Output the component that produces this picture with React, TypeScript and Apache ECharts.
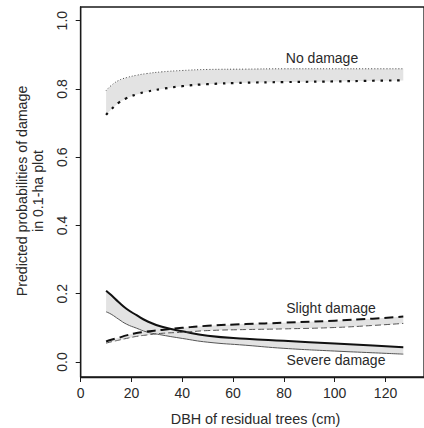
import React, { useEffect, useRef } from "react";
import * as echarts from "echarts";

const dbh = [10, 12, 15, 18, 22, 26, 32, 40, 50, 65, 80, 100, 115, 127];

const noDamageUpper = [0.795, 0.81, 0.825, 0.833, 0.84, 0.845, 0.85, 0.854, 0.857, 0.858, 0.859, 0.859, 0.859, 0.859];
const noDamageLower = [0.724, 0.74, 0.76, 0.773, 0.784, 0.792, 0.8, 0.808, 0.814, 0.818, 0.82, 0.822, 0.824, 0.825];
const severeUpper = [0.209, 0.196, 0.175, 0.156, 0.137, 0.12, 0.103, 0.09, 0.077, 0.068, 0.062, 0.054, 0.048, 0.043];
const severeLower = [0.147, 0.14, 0.125, 0.111, 0.099, 0.088, 0.079, 0.069, 0.058, 0.049, 0.04, 0.032, 0.027, 0.023];
const slightUpper = [0.06, 0.065, 0.071, 0.078, 0.085, 0.089, 0.094, 0.1, 0.106, 0.111, 0.115, 0.121, 0.127, 0.133];
const slightLower = [0.055, 0.059, 0.064, 0.069, 0.075, 0.079, 0.084, 0.087, 0.092, 0.095, 0.097, 0.101, 0.107, 0.113];

const xTicks = [0, 20, 40, 60, 80, 100, 120];
const yTicks = [0, 0.2, 0.4, 0.6, 0.8, 1.0];

const FONT = "'Liberation Sans', Arial, sans-serif";
const BAND = "#e3e3e3";

const bands = [
  { lower: noDamageLower, upper: noDamageUpper },
  { lower: severeLower, upper: severeUpper },
  { lower: slightLower, upper: slightUpper },
];

function pairs(ys: number[]) {
  return dbh.map((x, i) => [x, ys[i]]);
}

function line(ys: number[], color: string, width: number, type: any) {
  return {
    type: "line",
    data: pairs(ys),
    showSymbol: false,
    smooth: true,
    lineStyle: { color, width, type, cap: "butt" },
    z: 3,
  };
}

function label(text: string, x: number, y: number, size: number, rotation = 0) {
  return {
    type: "text",
    x,
    y,
    rotation,
    z: 100,
    style: {
      text,
      fontSize: size,
      fontFamily: FONT,
      fill: "#2a2a2a",
      align: "center",
      verticalAlign: "middle",
    },
  };
}

export default function App() {
  const ref = useRef<HTMLDivElement>(null);
  useEffect(() => {
    const chart = echarts.init(ref.current!, null, { renderer: "svg" });
    const option: any = {
      animation: false,
      backgroundColor: "#ffffff",
      grid: {
        left: 80.7,
        top: 7,
        right: -2,
        bottom: 51,
        show: true,
        borderColor: "#1a1a1a",
        borderWidth: 1.3,
      },
      xAxis: {
        type: "value",
        min: 0,
        max: 135.15,
        splitLine: { show: false },
        axisLine: { show: true, onZero: false, lineStyle: { color: "#1a1a1a", width: 1.3 } },
        axisTick: { show: true, length: 5, customValues: xTicks, lineStyle: { color: "#1a1a1a", width: 1 } },
        axisLabel: {
          customValues: xTicks,
          margin: 9,
          fontSize: 14,
          fontFamily: FONT,
          color: "#2a2a2a",
        },
      },
      yAxis: {
        type: "value",
        min: -0.044,
        max: 1.04,
        splitLine: { show: false },
        axisLine: { show: true, onZero: false, lineStyle: { color: "#1a1a1a", width: 1.3 } },
        axisTick: { show: true, length: 5, customValues: yTicks, lineStyle: { color: "#1a1a1a", width: 1 } },
        axisLabel: {
          customValues: yTicks,
          rotate: 90,
          margin: 12,
          fontSize: 14,
          fontFamily: FONT,
          color: "#2a2a2a",
          formatter: (v: number) => v.toFixed(1),
        },
      },
      series: [
        {
          type: "custom",
          data: bands.map((_, i) => [i]),
          silent: true,
          z: 1,
          renderItem: (params: any, api: any) => {
            const b = bands[params.dataIndex];
            const top = dbh.map((x, i) => api.coord([x, b.upper[i]]));
            const bottom = dbh.map((x, i) => api.coord([x, b.lower[i]])).reverse();
            return {
              type: "polygon",
              shape: { points: top.concat(bottom) },
              style: { fill: BAND, stroke: "none" },
            };
          },
        },
        line(noDamageUpper, "#444444", 1, [1, 2]),
        line(noDamageLower, "#111111", 2.2, [2.5, 5.8]),
        line(severeLower, "#555555", 1, "solid"),
        line(severeUpper, "#111111", 2, "solid"),
        line(slightLower, "#555555", 1, [6, 3]),
        line(slightUpper, "#111111", 2, [9, 5]),
      ],
      graphic: [
        label("Predicted probabilities of damage", 22, 191, 14.2, Math.PI / 2),
        label("in 0.1-ha plot", 38, 191, 14.2, Math.PI / 2),
        label("DBH of residual trees (cm)", 255.5, 419, 14.4),
        label("No damage", 322, 58, 14),
        label("Slight damage", 331, 308, 14),
        label("Severe damage", 336, 360, 14),
      ],
    };
    chart.setOption(option);
    return () => chart.dispose();
  }, []);
  return (
    <div
      ref={ref}
      style={{ position: "fixed", left: 0, top: 0, width: 424, height: 428, background: "#fff" }}
    />
  );
}
